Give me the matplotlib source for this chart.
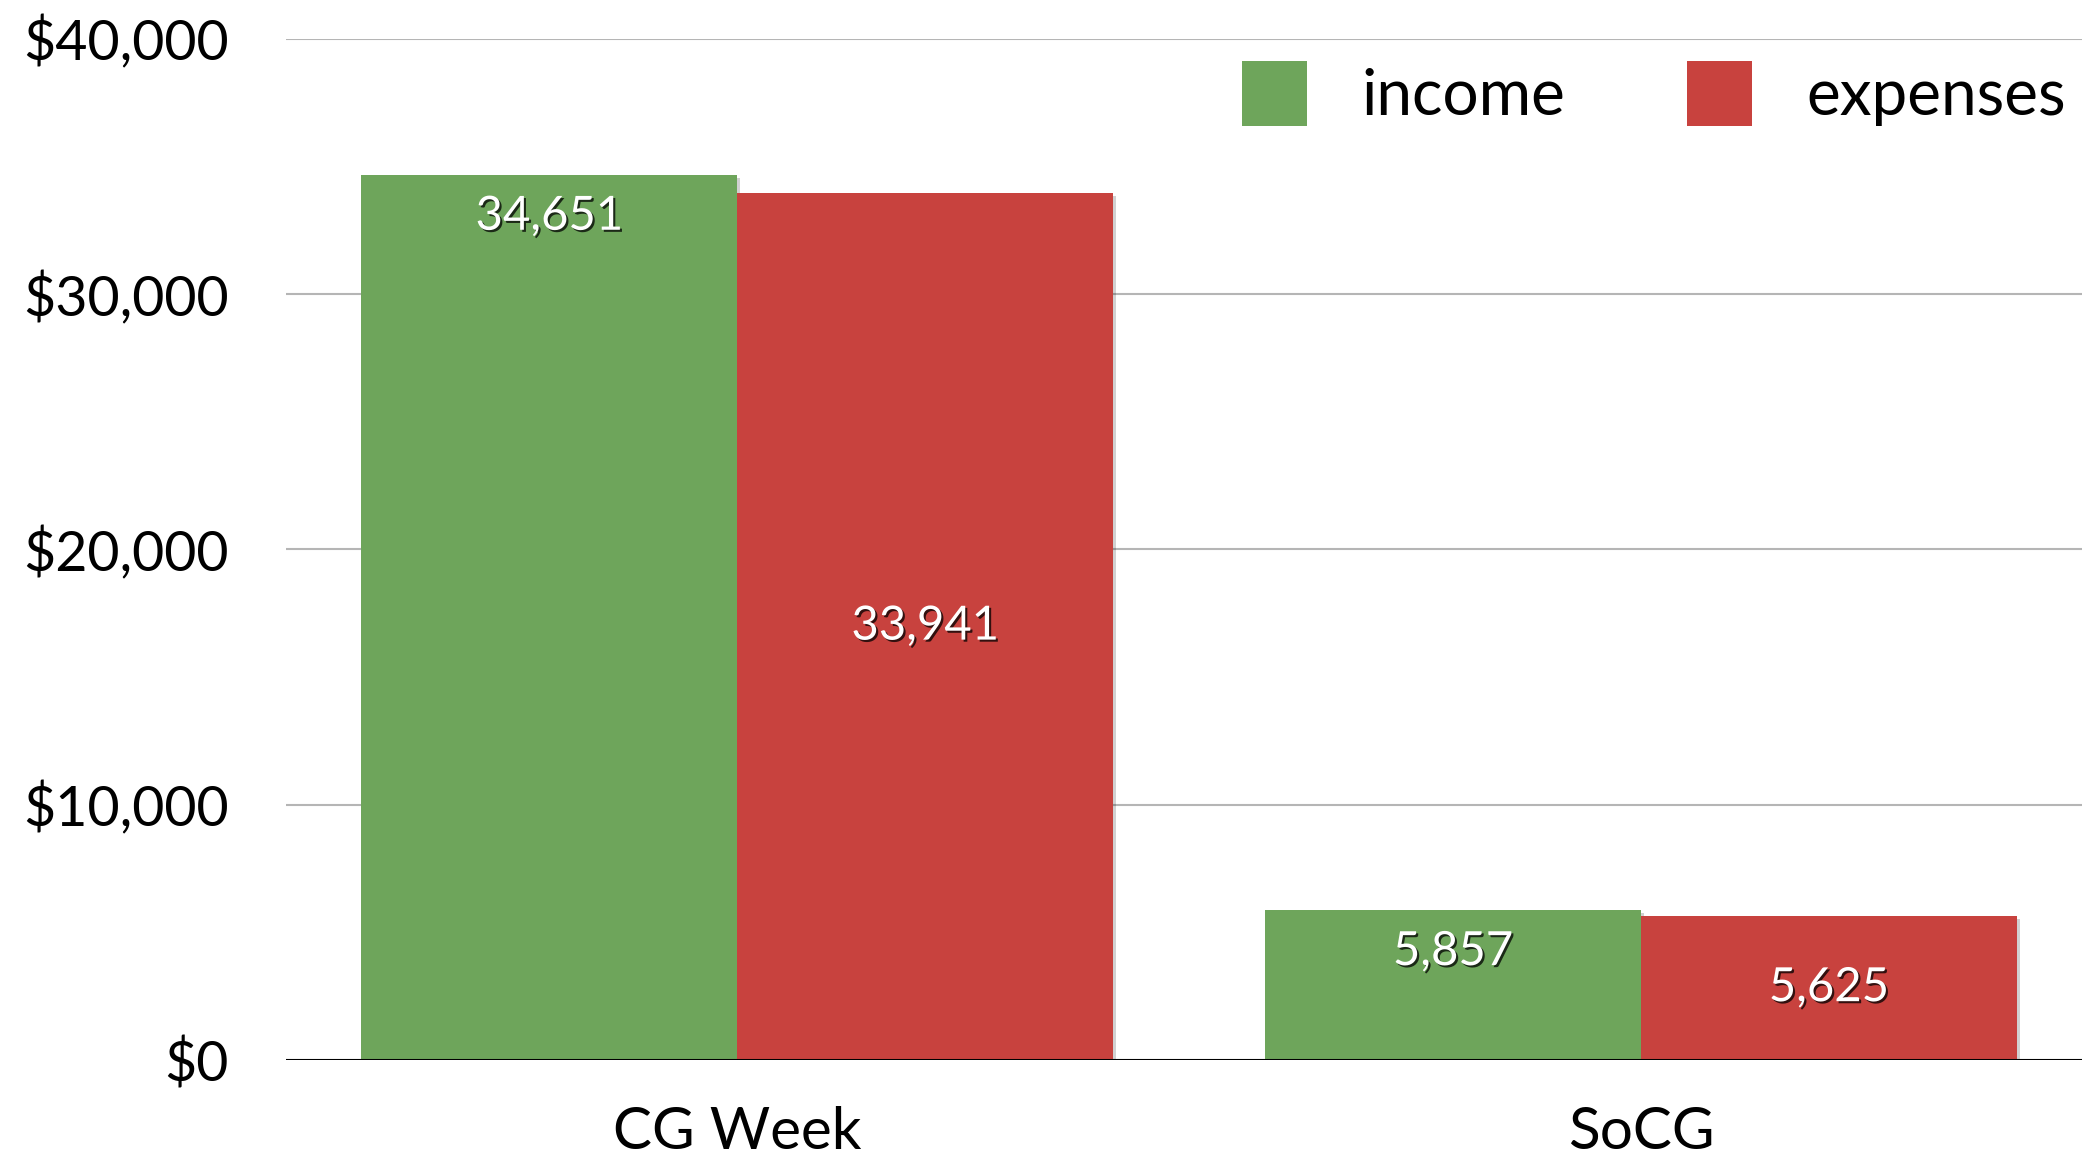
import matplotlib
matplotlib.use("Agg")
import matplotlib.pyplot as plt
import matplotlib.patheffects as pe
import numpy as np

categories = ["CG Week", "SoCG"]
income = [34651, 5857]
expenses = [33941, 5625]
series_names = ["income", "expenses"]
yticks = [0, 10000, 20000, 30000, 40000]
ytick_labels = ["$0", "$10,000", "$20,000", "$30,000", "$40,000"]

GREEN = "#6ea55b"
RED = "#c8423e"
FONT = "Lato"

W, H = 2082, 1158
fig = plt.figure(figsize=(W / 100, H / 100), dpi=100)
fig.patch.set_facecolor("white")
ax_left = 285.5 / W
ax_bottom = 1 - 1060 / H
ax_top = 1 - 38.5 / H
ax = fig.add_axes([ax_left, ax_bottom, 1 - ax_left, ax_top - ax_bottom])
ax.set_facecolor("none")

x = np.arange(len(categories))
w = 0.416
bar_fx = [pe.SimplePatchShadow(offset=(2, -2), shadow_rgbFace="black", alpha=0.18), pe.Normal()]
b1 = ax.bar(x - w / 2, income, w, color=GREEN, label=series_names[0], zorder=3, path_effects=bar_fx)
b2 = ax.bar(x + w / 2, expenses, w, color=RED, label=series_names[1], zorder=3, path_effects=bar_fx)

ax.set_xlim(-0.5, 1.488)
ax.set_ylim(0, 40000)
ax.set_yticks(yticks)
ax.set_yticklabels(ytick_labels)
ax.set_xticks(x)
ax.set_xticklabels(categories)

for s in ax.spines.values():
    s.set_visible(False)
ax.tick_params(axis="both", length=0)
ax.tick_params(axis="y", pad=41, labelsize=40)
ax.tick_params(axis="x", pad=33, labelsize=42)
for lab in ax.get_xticklabels() + ax.get_yticklabels():
    lab.set_fontfamily(FONT)
    lab.set_color("black")

ax.yaxis.grid(True, color="#b5b5b5", linewidth=1.5, zorder=0)
ax.set_axisbelow(True)
ax.axhline(0, color="black", linewidth=2.2, zorder=4)

txt_fx = [pe.SimplePatchShadow(offset=(1.5, -1.5), shadow_rgbFace="black", alpha=0.75), pe.Normal()]
for xi, v in zip(x - w / 2, income):
    ax.annotate(f"{v:,}", (xi, v), xytext=(0, -30), textcoords="offset points",
                ha="center", va="center", color="white", fontsize=34, family=FONT,
                path_effects=txt_fx, zorder=5)
for xi, v in zip(x + w / 2, expenses):
    ax.text(xi, v / 2, f"{v:,}", ha="center", va="center", color="white", fontsize=34,
            family=FONT, path_effects=txt_fx, zorder=5)

leg = ax.legend(loc="upper right", bbox_to_anchor=(0.991, 0.978), ncol=2, frameon=False,
                prop={"family": FONT, "size": 46}, handlelength=1.02, handleheight=1.19,
                handletextpad=0.85, columnspacing=1.9, borderpad=0, borderaxespad=0)
for h in leg.legend_handles:
    h.set_path_effects([])

fig.savefig("out.png", dpi=100)
